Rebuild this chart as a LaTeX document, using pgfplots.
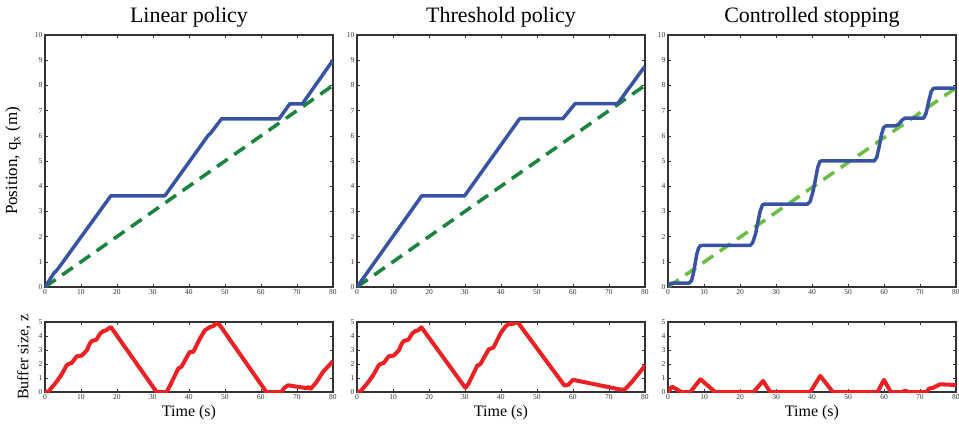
\documentclass[border=0pt]{standalone}
\usepackage{pgfplots}
\pgfplotsset{compat=1.18}
\usepackage{fontspec}
\setmainfont{Liberation Serif}
\definecolor{mblue}{RGB}{57,83,164}
\definecolor{mgreen}{RGB}{24,132,60}
\definecolor{lgreen}{RGB}{109,190,69}
\definecolor{mred}{RGB}{237,32,36}
\definecolor{axcol}{RGB}{51,51,51}
\pgfplotsset{
  mystyle/.style={scale only axis, width=288pt, xmin=0, xmax=80, xtick={0,10,...,80},
    tick align=inside, major tick length=3pt,
    axis line style={axcol, line width=1.1pt},
    every tick/.style={axcol, line width=0.6pt},
    tick label style={font=\fontsize{7.5}{8}\selectfont, text=axcol},
    /pgf/number format/assume math mode=true,
    xticklabel style={yshift=1pt}, yticklabel style={xshift=1pt},
    anchor=south west},
  topax/.style={mystyle, height=252pt, ymin=0, ymax=10, ytick={0,1,...,10},
    title style={at={(0.5,1)}, anchor=base, yshift=7pt, font=\fontsize{22}{24}\selectfont}},
  botax/.style={mystyle, height=70pt, ymin=0, ymax=5, ytick={0,1,...,5},
    xlabel={Time (s)},
    xlabel style={at={(0.5,0)}, anchor=base, yshift=-24pt, font=\fontsize{16}{18}\selectfont}},
  bl/.style={mblue, line width=3.5pt, line join=round},
  gd/.style={mgreen, line width=3.5pt, dash pattern=on 13pt off 8pt},
  rd/.style={mred, line width=4pt, line join=round},
}
\begin{document}
\begin{tikzpicture}
\useasboundingbox (0,0) rectangle (959pt,424pt);
% ---------- Top row ----------
\begin{axis}[topax, at={(45pt,137pt)}, title={Linear policy},
  ylabel={Position, q\textsubscript{x} (m)},
  ylabel style={at={(-0.111,0.5)}, anchor=center, font=\fontsize{17}{19}\selectfont}]
\addplot[gd] coordinates {(0,0) (80,8)};
\addplot[bl] coordinates {(0,0) (2.5,0.55) (3.5,0.7) (18.3,3.62) (33.3,3.62) (45.4,6.03) (46,6.1) (49,6.67) (65,6.67) (68,7.27) (71.5,7.27) (80,9.0)};
\end{axis}
\begin{axis}[topax, at={(357pt,137pt)}, title={Threshold policy}]
\addplot[gd] coordinates {(0,0) (80,8)};
\addplot[bl] coordinates {(0,0) (18,3.62) (29.9,3.62) (45.2,6.68) (57.2,6.68) (60.6,7.28) (72.4,7.28) (80,8.76)};
\end{axis}
\begin{axis}[topax, at={(668pt,137pt)}, title={Controlled stopping}]
\addplot[gd, lgreen] coordinates {(0,0) (80,7.9)};
\addplot[bl] coordinates {(0,0) (0.5,0.12) (1,0.15) (5.8,0.15) (6.5,0.25) (7,0.5) (7.5,0.9) (8,1.3) (8.5,1.55) (9,1.64) (9.5,1.65)
 (22.8,1.65) (23.5,1.75) (24.3,2.1) (25,2.6) (25.6,3.0) (26.2,3.25) (26.8,3.29)
 (38.8,3.29) (39.5,3.4) (40.3,3.8) (41,4.3) (41.6,4.75) (42.2,4.98) (42.8,5.01)
 (57.3,5.0) (58,5.15) (58.7,5.6) (59.3,6.05) (59.9,6.33) (60.5,6.39)
 (63,6.39) (64,6.45) (65,6.62) (65.8,6.7) (71,6.7) (71.7,6.9) (72.4,7.35) (73.1,7.75) (73.7,7.88) (74.3,7.89) (80,7.89)};
\end{axis}
% ---------- Bottom row ----------
\begin{axis}[botax, at={(45pt,32pt)},
  ylabel={Buffer size, z},
  ylabel style={at={(-0.073,0.5)}, anchor=center, font=\fontsize{16}{18}\selectfont}]
\addplot[rd] coordinates {(0,0) (1,0.05) (2.8,0.6) (4.5,1.2) (6,1.9) (6.5,2.0) (7.4,2.07) (8.8,2.55) (10.2,2.6) (11.7,3.0) (12.3,3.4) (13,3.64) (14.3,3.74) (15.3,4.17) (16.2,4.35) (16.9,4.4) (18.3,4.64)
 (31,0) (33.8,0) (35,0.6) (37,1.67) (37.9,1.8) (40.2,2.86) (41.2,2.86) (43,3.8) (44.4,4.4) (45.8,4.64) (46.7,4.7) (47.6,4.93) (48.6,4.76)
 (61.5,0) (65.7,0) (66.5,0.3) (67.5,0.48) (70,0.38) (72.6,0.28) (73.2,0.35) (73.8,0.22) (75.4,0.7) (77.2,1.43) (80,2.2)};
\end{axis}
\begin{axis}[botax, at={(357pt,32pt)}]
\addplot[rd] coordinates {(0,0) (1,0.05) (2.8,0.6) (4.5,1.2) (6,1.9) (6.5,2.0) (7.4,2.07) (8.8,2.55) (10.2,2.6) (11.7,3.0) (12.3,3.4) (13,3.64) (14.3,3.74) (15.3,4.17) (16.2,4.35) (16.9,4.4) (17.9,4.62)
 (30.1,0.3) (31,0.6) (33.4,1.88) (34.3,2.0) (36.6,3.05) (37.9,3.17) (39.9,4.2) (41.3,4.7) (42.2,4.86) (43.2,4.86) (44.6,5.0)
 (57.6,0.47) (58.6,0.5) (60,0.87) (73.5,0.16) (74.5,0.2) (76.3,0.7) (80,1.88)};
\end{axis}
\begin{axis}[botax, at={(668pt,32pt)}]
\addplot[rd] coordinates {(0,0) (1.1,0.38) (3.4,0.05) (4,0) (6.2,0) (9,0.91) (13.1,0) (23.8,0) (26.4,0.79) (28.4,0) (39.5,0) (42.3,1.15) (45.8,0) (58.2,0) (60,0.87) (61.9,0) (65,0) (65.9,0.1) (66.8,0) (71.9,0) (72.5,0.25) (73.6,0.3) (75.6,0.55) (80,0.5)};
\end{axis}
\end{tikzpicture}
\end{document}
